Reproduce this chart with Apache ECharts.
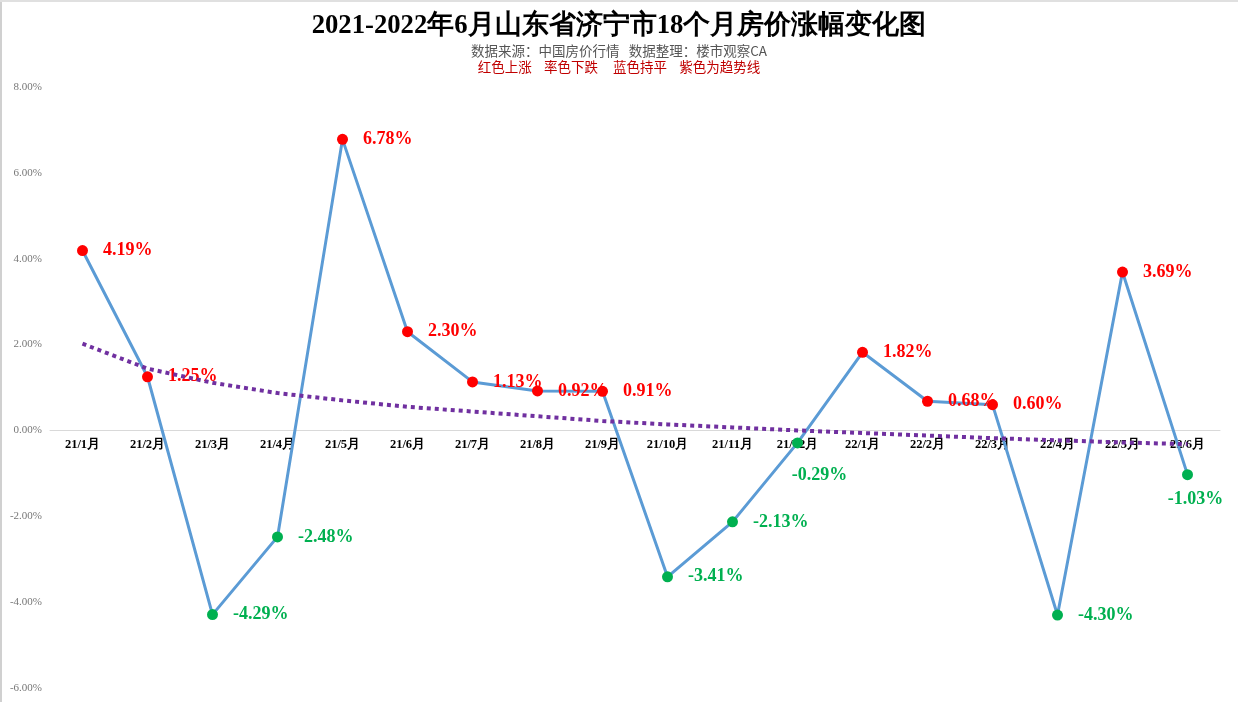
<!DOCTYPE html>
<html><head><meta charset="utf-8">
<script src="https://cdn.jsdelivr.net/npm/echarts@6/dist/echarts.min.js"></script>
<style>html,body{margin:0;padding:0;background:#fff}#c{width:1238px;height:702px}</style>
</head><body><div id="c"></div>
<script>
const categories = ['21/1月','21/2月','21/3月','21/4月','21/5月','21/6月','21/7月','21/8月','21/9月','21/10月','21/11月','21/12月','22/1月','22/2月','22/3月','22/4月','22/5月','22/6月'];
const changes = [4.19,1.25,-4.29,-2.48,6.78,2.30,1.13,0.92,0.91,-3.41,-2.13,-0.29,1.82,0.68,0.60,-4.30,3.69,-1.03];
const trend = [2.02,1.44,1.11,0.87,0.70,0.55,0.44,0.33,0.22,0.14,0.07,0.00,-0.06,-0.12,-0.18,-0.23,-0.28,-0.32];
const belowLabels = {'21/12月':[22,8], '22/6月':[8,0]};
const yTicks = {min:-6, max:8, interval:2};

const RED = '#FF0000', GREEN = '#00B050';
const serif = '"Liberation Serif","Times New Roman",serif';

const mainData = changes.map((v,i)=>{
  const up = v > 0;
  const c = up ? RED : GREEN;
  const below = belowLabels[categories[i]];
  return {
    value: v,
    itemStyle: {color: c},
    label: below ? {position:'bottom', distance: 10, offset:below, color:c} : {position:'right', distance: 15, color:c}
  };
});

const chart = echarts.init(document.getElementById('c'));
chart.setOption({
  animation:false,
  backgroundColor:'#fff',
  title:[
    {text:'2021-2022年6月山东省济宁市18个月房价涨幅变化图', left:'center', top:8,
     textStyle:{fontFamily:serif, fontSize:26.7, fontWeight:'bold', color:'#000'}},
    {text:'数据来源：中国房价行情   数据整理：楼市观察CA', left:'center', top:39,
     textStyle:{fontFamily:'"Noto Sans CJK SC",sans-serif', fontSize:13.5, fontWeight:'normal', color:'#555'}},
    {text:'红色上涨    率色下跌     蓝色持平    紫色为趋势线', left:'center', top:55,
     textStyle:{fontFamily:'"Noto Sans CJK SC",sans-serif', fontSize:13.5, fontWeight:'normal', color:'#C00000'}}
  ],
  graphic:[
    {type:'line', shape:{x1:1,y1:0,x2:1,y2:702}, style:{stroke:'#d0d0d0', lineWidth:2}},
    {type:'line', shape:{x1:0,y1:1,x2:1238,y2:1}, style:{stroke:'#e0e0e0', lineWidth:2}}
  ],
  grid:{left:50, right:18, top:87, bottom:14},
  xAxis:{
    type:'category', data:categories, boundaryGap:true,
    offset:-257.6,
    axisLine:{onZero:false, lineStyle:{color:'#d9d9d9', width:1}},
    axisTick:{show:false},
    axisLabel:{fontFamily:serif, fontSize:12.5, fontWeight:'bold', color:'#000', margin:8, interval:0}
  },
  yAxis:{
    type:'value', min:yTicks.min, max:yTicks.max, interval:yTicks.interval,
    splitLine:{show:false}, axisLine:{show:false}, axisTick:{show:false},
    axisLabel:{fontFamily:serif, fontSize:11, color:'#777', margin:8, formatter:v=>v.toFixed(2)+'%'}
  },
  series:[
    {type:'line', data:mainData, symbol:'circle', symbolSize:11,
     lineStyle:{color:'#5B9BD5', width:3}, z:2,
     label:{show:true, fontFamily:serif, fontSize:18, fontWeight:'bold', formatter:p=>p.value.toFixed(2)+'%'}},
    {type:'line', data:trend, symbol:'none', z:3,
     lineStyle:{color:'#7030A0', width:4, type:[4,4], cap:'butt'}}
  ]
});
</script></body></html>
